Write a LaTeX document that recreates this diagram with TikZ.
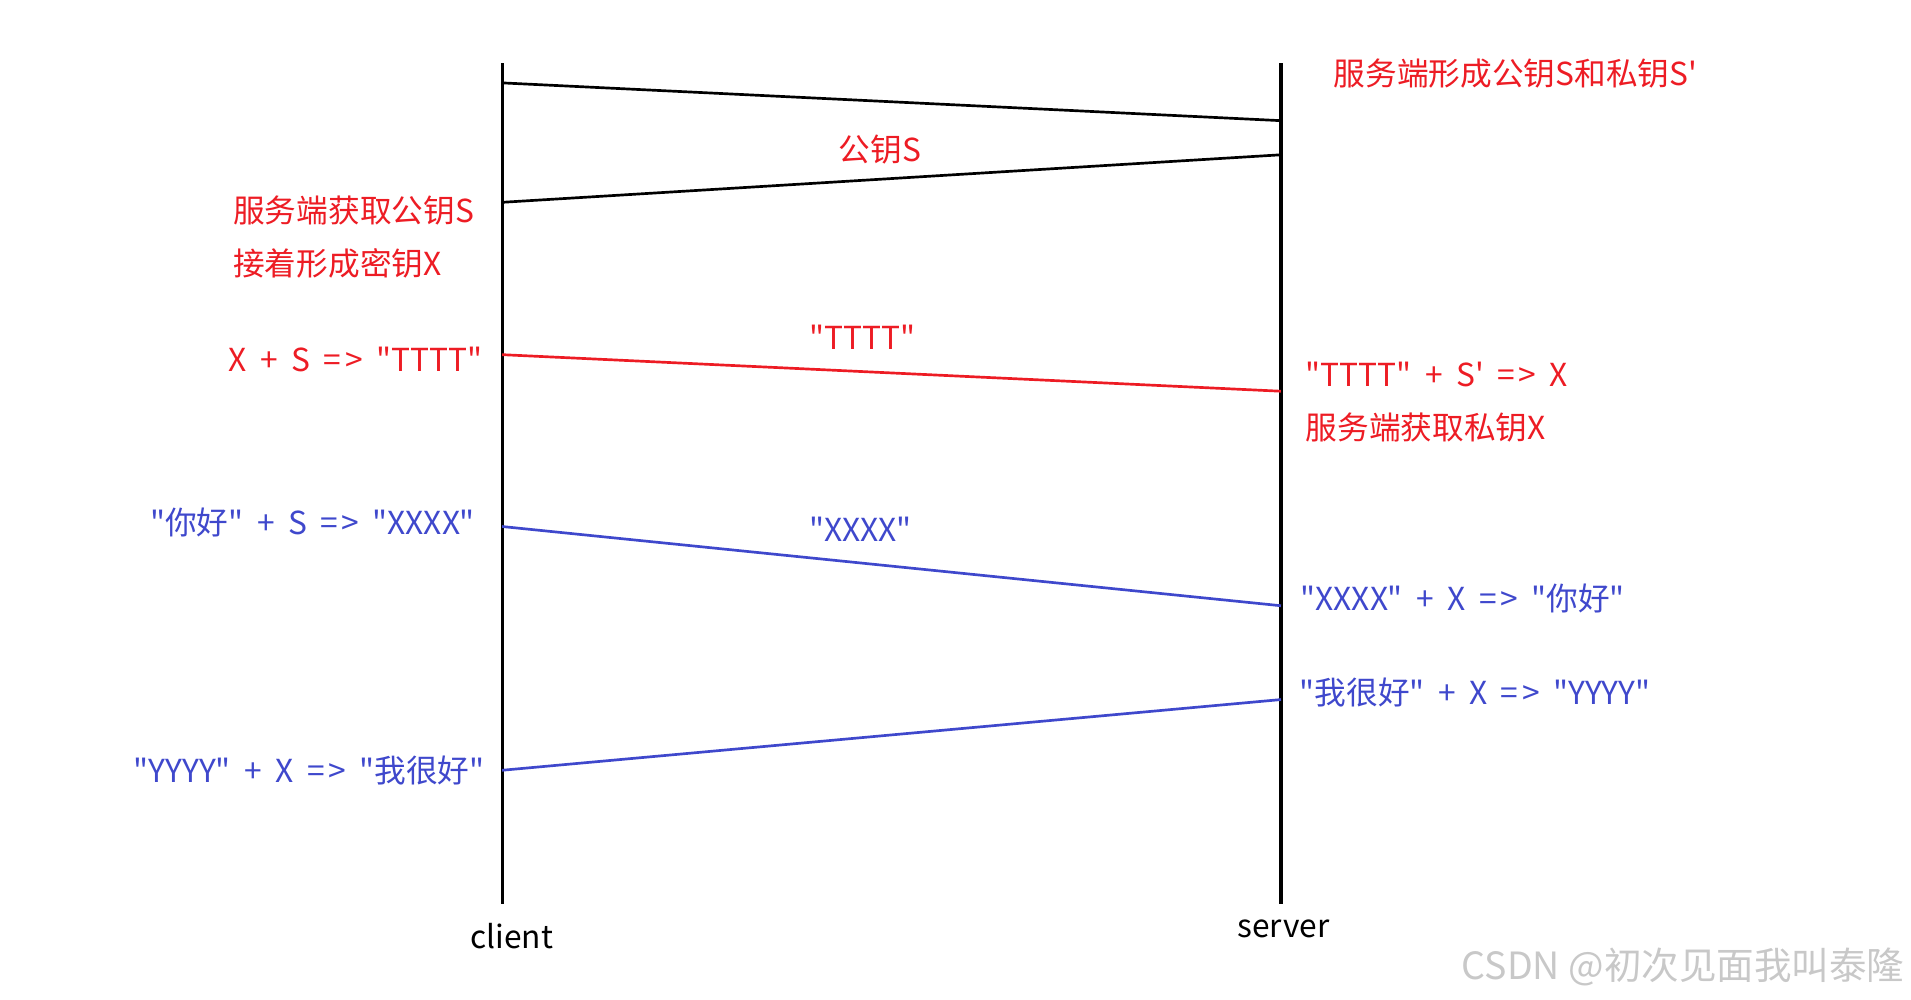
\documentclass[tikz,border=0pt]{standalone}
\usepackage{fontspec}
\usepackage{xcolor}
\usepackage{tikz}

\newfontfamily\cnfont{Noto Sans CJK SC}[WordSpace=1.9]

\definecolor{keyred}{RGB}{237,28,36}
\definecolor{msgblue}{RGB}{63,72,204}
\definecolor{markgray}{RGB}{200,200,200}

% "=>" as the picture spaces it
\newcommand{\yields}{=\kern1.5pt>}

\tikzset{
  lifeline/.style={line width=1.3pt},
  msg/.style={line width=1.1pt},
  lbl/.style={inner sep=0pt, font=\cnfont\fontsize{13}{15}\selectfont},
}

\begin{document}
\begin{tikzpicture}[x=0.5pt,y=-0.5pt]

% canvas
\useasboundingbox (0,0) rectangle (1568,820);

% lifelines
\coordinate (cl-top) at (412,52);
\coordinate (cl-bot) at (412,742);
\coordinate (sv-top) at (1051,52);
\coordinate (sv-bot) at (1051,742);
\draw[lifeline] (cl-top) -- (cl-bot);
\draw[lifeline] (sv-top) -- (sv-bot);

% message end points
\coordinate (req-a) at (412,68);
\coordinate (req-b) at (1051,99);
\coordinate (pub-a) at (1051,127);
\coordinate (pub-b) at (412,166);
\coordinate (key-a) at (412,291);
\coordinate (key-b) at (1051,321);
\coordinate (hi-a) at (412,432);
\coordinate (hi-b) at (1051,497);
\coordinate (ok-a) at (1051,574);
\coordinate (ok-b) at (412,632);

% messages
\draw[msg] (req-a) -- (req-b);
\draw[msg] (pub-a) -- (pub-b);
\draw[msg, keyred] (key-a) -- (key-b);
\draw[msg, msgblue] (hi-a) -- (hi-b);
\draw[msg, msgblue] (ok-a) -- (ok-b);

% key exchange notes
\node[lbl, keyred, anchor=west] (keygen) at (1094,60) {服务端形成公钥S和私钥S'};
\node[lbl, keyred] (pubS) at (722,123) {公钥S};
\node[lbl, keyred, anchor=west] (getS) at (191,173) {服务端获取公钥S};
\node[lbl, keyred, anchor=west] (makeX) at (191,216) {接着形成密钥X};
\node[lbl, keyred, anchor=east] (encX) at (396,295) {X + S \yields{} "TTTT"};
\node[lbl, keyred] (tttt) at (708,277) {"TTTT"};
\node[lbl, keyred, anchor=west] (decX) at (1071,307) {"TTTT" + S' \yields{} X};
\node[lbl, keyred, anchor=west] (getX) at (1071,351) {服务端获取私钥X};

% data exchange notes
\node[lbl, msgblue, anchor=east] (encHi) at (390,429) {"你好" + S \yields{} "XXXX"};
\node[lbl, msgblue] (xxxx) at (706,434) {"XXXX"};
\node[lbl, msgblue, anchor=west] (decHi) at (1067,491) {"XXXX" + X \yields{} "你好"};
\node[lbl, msgblue, anchor=west] (encOk) at (1066,568) {"我很好" + X \yields{} "YYYY"};
\node[lbl, msgblue, anchor=east] (decOk) at (398,632) {"YYYY" + X \yields{} "我很好"};

% lifeline names
\node[lbl] (client) at (420,768) {client};
\node[lbl] (server) at (1053,762) {server};

% watermark
\node[lbl, markgray, anchor=east, font=\cnfont\fontsize{15.4}{17}\selectfont] (mark) at (1563,793) {CSDN\kern3.5pt@初次见面我叫泰隆};

\end{tikzpicture}
\end{document}
